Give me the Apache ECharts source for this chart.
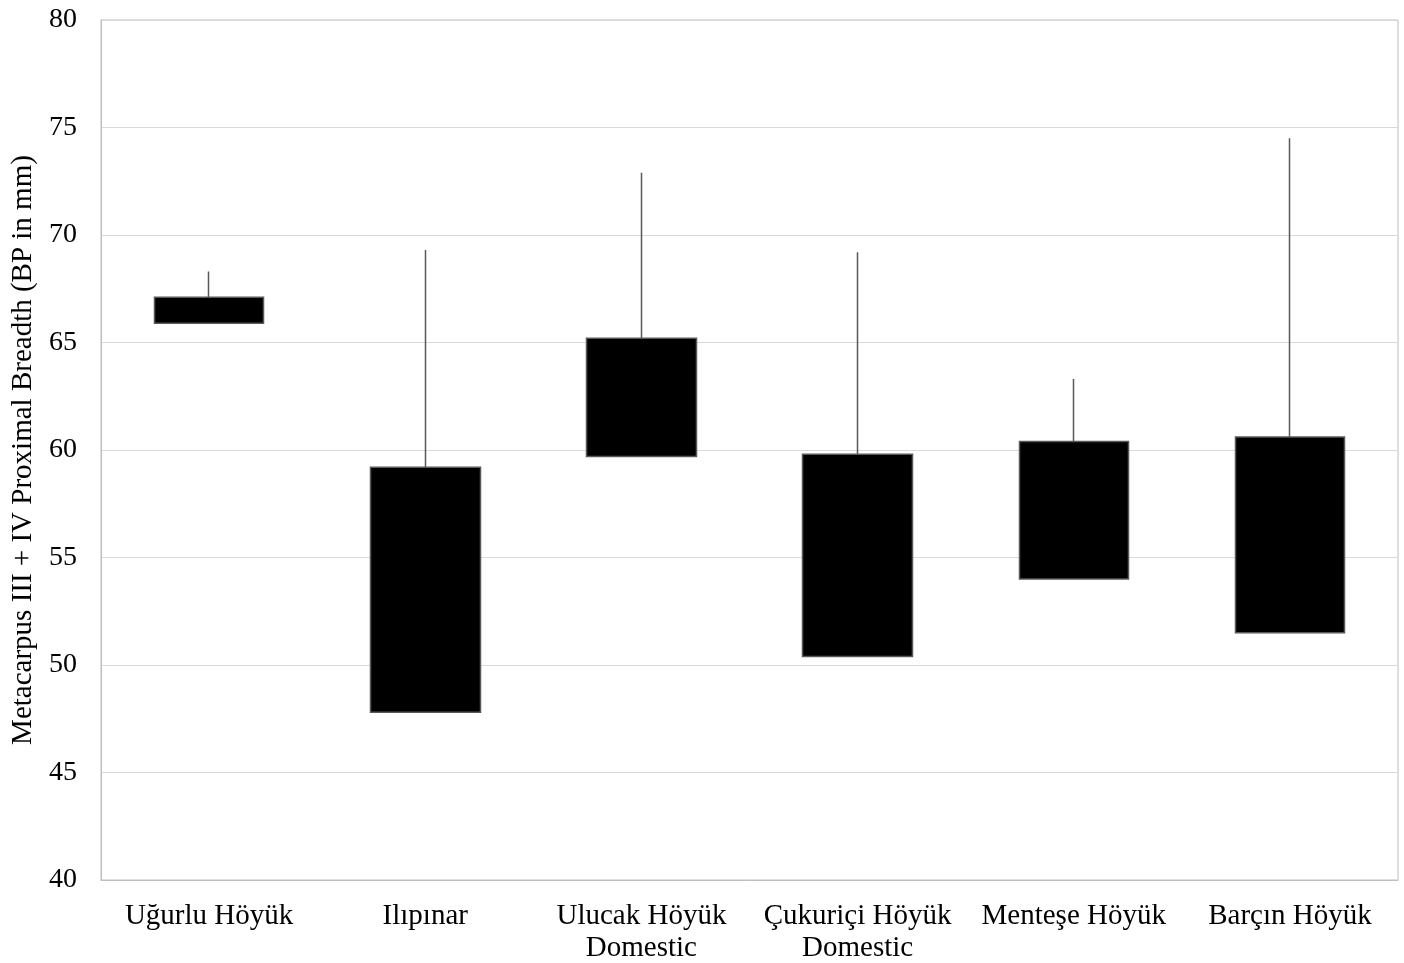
<!DOCTYPE html>
<html>
<head>
<meta charset="utf-8">
<script src="https://cdn.jsdelivr.net/npm/echarts@6/dist/echarts.min.js"></script>
<style>
  html, body { margin: 0; padding: 0; background: #fff; }
  #chart { width: 1404px; height: 963px; }
</style>
</head>
<body>
<div id="chart"></div>
<script>
// Sites (category axis)
const sites = [
  'Uğurlu Höyük',
  'Ilıpınar',
  'Ulucak Höyük\nDomestic',
  'Çukuriçi Höyük\nDomestic',
  'Menteşe Höyük',
  'Barçın Höyük'
];
// Box bottom, box top and maximum (mm)
const boxLow  = [65.9, 47.8, 59.7, 50.4, 54.0, 51.5];
const boxHigh = [67.1, 59.2, 65.2, 59.8, 60.4, 60.6];
const maxVal  = [68.3, 69.3, 72.9, 69.2, 63.3, 74.5];

const yTicks = { min: 40, max: 80, interval: 5 };

// candlestick: [open, close, lowest, highest]
const candleData = sites.map((_, i) => [boxLow[i], boxHigh[i], boxLow[i], maxVal[i]]);

const fontFam = '"Liberation Serif", "Times New Roman", serif';
const chart = echarts.init(document.getElementById('chart'));
chart.setOption({
  animation: false,
  backgroundColor: '#ffffff',
  grid: {
    left: 101, right: 6, top: 20, bottom: 83,
    containLabel: false,
    outerBoundsMode: 'none',
    show: true, borderColor: '#bfbfbf', borderWidth: 1
  },
  xAxis: {
    type: 'category',
    data: sites,
    axisLine: { show: true, lineStyle: { color: '#bfbfbf', width: 1 } },
    axisTick: { show: false },
    axisLabel: {
      color: '#000', fontFamily: fontFam, fontSize: 29,
      lineHeight: 32, margin: 20, interval: 0, hideOverlap: false
    }
  },
  yAxis: {
    type: 'value',
    min: yTicks.min, max: yTicks.max, interval: yTicks.interval,
    name: 'Metacarpus III + IV Proximal Breadth (BP in mm)',
    nameLocation: 'middle',
    nameGap: 60,
    nameTextStyle: { color: '#000', fontFamily: fontFam, fontSize: 29 },
    axisLine: { show: true, lineStyle: { color: '#bfbfbf', width: 1 } },
    axisTick: { show: false },
    axisLabel: { color: '#000', fontFamily: fontFam, fontSize: 28, margin: 24 },
    splitLine: { show: true, lineStyle: { color: '#d9d9d9', width: 1 } }
  },
  series: [{
    type: 'candlestick',
    data: candleData,
    barWidth: 110,
    itemStyle: {
      color: '#000000',
      color0: '#000000',
      borderColor: '#595959',
      borderColor0: '#595959',
      borderWidth: 1.5
    }
  }]
});
</script>
</body>
</html>
